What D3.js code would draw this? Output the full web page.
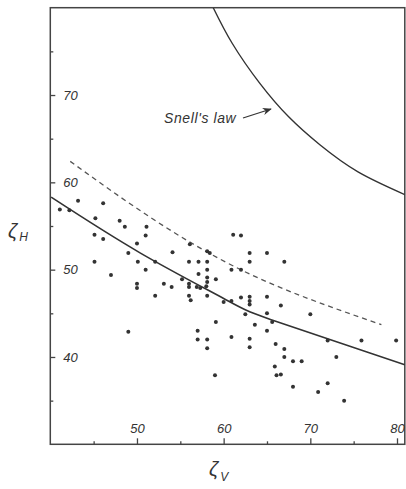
<!DOCTYPE html>
<html>
<head>
<meta charset="utf-8">
<script src="https://cdn.jsdelivr.net/npm/d3@7"></script>
<style>
  body { margin: 0; background: #fff; }
  .lbl { font-family: "Liberation Sans", "DejaVu Sans", sans-serif; font-style: italic; fill: #333; }
  .axis text { font-family: "Liberation Sans", "DejaVu Sans", sans-serif; font-style: italic; font-size: 13px; fill: #333; }
  .axis line { stroke: #444; stroke-width: 1.3; }
  .axis path { display: none; }
</style>
</head>
<body>
<div id="chart"></div>
<script>
// observed points (zeta_V, zeta_H)
var zetaV = [41.1, 42.2, 43.2, 46.1, 45.2, 48.0, 48.6, 45.1, 46.1, 51.1, 51.0, 50.0, 49.0, 45.1, 50.1, 52.1,
  51.0, 47.0, 50.0, 50.0, 52.1, 49.0, 61.1, 62.0, 56.1, 54.1, 58.1, 58.4, 63.0, 65.0, 56.0, 57.1,
  58.1, 63.0, 58.1, 60.9, 62.0, 57.1, 59.1, 58.1, 58.1, 58.0, 53.1, 54.0, 56.0, 56.0, 56.9, 57.3,
  55.2, 56.0, 56.2, 58.1, 63.0, 62.0, 65.0, 60.0, 60.9, 63.0, 63.0, 62.5, 63.6, 65.0, 65.0, 59.1,
  57.0, 57.0, 58.1, 58.1, 60.9, 63.0, 63.0, 66.0, 65.9, 59.0, 66.1, 67.0, 66.6, 70.0, 65.6, 72.0,
  75.9, 79.9, 67.0, 67.0, 68.0, 69.0, 73.0, 66.6, 68.0, 72.0, 70.9, 73.9];
var zetaH = [56.9, 56.8, 57.9, 57.6, 55.9, 55.6, 54.9, 54.0, 53.5, 54.9, 53.9, 53.0, 51.9, 50.9, 50.9, 50.9,
  50.0, 49.4, 48.4, 47.9, 47.0, 42.9, 54.0, 53.9, 52.9, 52.0, 52.1, 51.9, 51.9, 51.9, 50.9, 50.9,
  50.9, 50.9, 50.0, 50.0, 50.0, 49.5, 48.9, 49.1, 48.6, 48.1, 48.4, 48.0, 48.4, 48.0, 48.0, 47.9,
  48.9, 47.0, 46.5, 47.0, 46.9, 46.8, 46.9, 46.3, 46.4, 46.4, 46.0, 44.9, 43.7, 45.0, 43.0, 44.0,
  43.0, 42.0, 42.0, 41.0, 42.3, 42.1, 41.1, 41.5, 38.9, 37.9, 37.9, 50.9, 45.9, 44.9, 44.0, 41.9,
  41.9, 41.9, 40.9, 40.0, 39.5, 39.5, 40.0, 38.0, 36.6, 37.0, 36.0, 35.0];

// fitted curve (solid)
var fitV = [40.1, 50.4, 60.0, 65.4, 80.9];
var fitH = [58.3, 51.9, 46.7, 44.3, 39.1];

// dashed curve
var dashV = [42.3, 52.3, 64.1, 78.2];
var dashH = [62.4, 55.5, 49.0, 43.7];

// Snell's law curve
var snellV = [58.8, 61.0, 64.2, 67.5, 71.1, 75.5, 80.9];
var snellH = [80.0, 75.9, 71.3, 67.5, 64.3, 61.2, 58.6];

var xMajor = [50, 60, 70, 80], xMinor = [45, 55, 65, 75];
var yMajor = [40, 50, 60, 70], yMinor = [35, 45, 55, 65, 75];

var W = 406, H = 489;
var x = d3.scaleLinear().domain([40, 80]).range([50.3, 397]);
var y = d3.scaleLinear().domain([30, 80]).range([444.3, 7.7]);

var svg = d3.select("#chart").append("svg")
  .attr("width", W).attr("height", H);

// frame
svg.append("rect")
  .attr("x", x(40)).attr("y", y(80))
  .attr("width", x(80.9) - x(40)).attr("height", y(30) - y(80))
  .attr("fill", "none").attr("stroke", "#444").attr("stroke-width", 1.5);

// x axis
svg.append("g").attr("class", "axis")
  .attr("transform", "translate(0," + y(30) + ")")
  .call(d3.axisBottom(x).tickValues(xMajor).tickSizeInner(-6).tickSizeOuter(0).tickPadding(-21));
svg.append("g").attr("class", "axis")
  .attr("transform", "translate(0," + y(30) + ")")
  .call(d3.axisBottom(x).tickValues(xMinor).tickSizeInner(-3).tickSizeOuter(0).tickFormat(""));

// y axis
svg.append("g").attr("class", "axis")
  .attr("transform", "translate(" + x(40) + ",0)")
  .call(d3.axisRight(y).tickValues(yMajor).tickSizeInner(5).tickSizeOuter(0).tickPadding(8));
svg.append("g").attr("class", "axis")
  .attr("transform", "translate(" + x(40) + ",0)")
  .call(d3.axisRight(y).tickValues(yMinor).tickSizeInner(3).tickSizeOuter(0).tickFormat(""));

svg.append("clipPath").attr("id", "clip")
  .append("rect").attr("x", x(40)).attr("y", y(80))
  .attr("width", x(80.9) - x(40)).attr("height", y(30) - y(80));

var line = d3.line()
  .x(function(d) { return x(d[0]); })
  .y(function(d) { return y(d[1]); })
  .curve(d3.curveNatural);

var plot = svg.append("g").attr("clip-path", "url(#clip)");

plot.append("path")
  .datum(d3.zip(snellV, snellH))
  .attr("d", line)
  .attr("fill", "none").attr("stroke", "#333").attr("stroke-width", 1.4);

plot.append("path")
  .datum(d3.zip(fitV, fitH))
  .attr("d", line)
  .attr("fill", "none").attr("stroke", "#333").attr("stroke-width", 1.6);

plot.append("path")
  .datum(d3.zip(dashV, dashH))
  .attr("d", line)
  .attr("fill", "none").attr("stroke", "#555").attr("stroke-width", 1.3)
  .attr("stroke-dasharray", "5,4");

plot.selectAll(".dot")
  .data(d3.zip(zetaV, zetaH))
  .enter().append("circle")
  .attr("class", "dot")
  .attr("cx", function(d) { return x(d[0]); })
  .attr("cy", function(d) { return y(d[1]); })
  .attr("r", 2)
  .attr("fill", "#333");

// Snell's law label + arrow
svg.append("text").attr("class", "lbl")
  .attr("x", 164).attr("y", 123)
  .style("font-size", "14px").style("letter-spacing", "0.6px")
  .text("Snell's law");

svg.append("defs").append("marker")
  .attr("id", "arr").attr("viewBox", "0 0 10 10")
  .attr("refX", 9).attr("refY", 5)
  .attr("markerWidth", 7).attr("markerHeight", 7)
  .attr("orient", "auto")
  .append("path").attr("d", "M0,1 L10,5 L0,9 L3,5 Z").attr("fill", "#333");

svg.append("line")
  .attr("x1", 243).attr("y1", 118).attr("x2", 271).attr("y2", 109)
  .attr("stroke", "#333").attr("stroke-width", 1.3)
  .attr("marker-end", "url(#arr)");

// axis titles
var th = svg.append("text").attr("class", "lbl").attr("x", 8).attr("y", 238)
  .style("font-size", "20px");
th.append("tspan").text("ζ");
th.append("tspan").attr("dy", 3).attr("dx", 2).style("font-size", "12px").text("H");

var tv = svg.append("text").attr("class", "lbl").attr("x", 209).attr("y", 476)
  .style("font-size", "20px");
tv.append("tspan").text("ζ");
tv.append("tspan").attr("dy", 5).attr("dx", 2).style("font-size", "12px").text("V");
</script>
</body>
</html>
